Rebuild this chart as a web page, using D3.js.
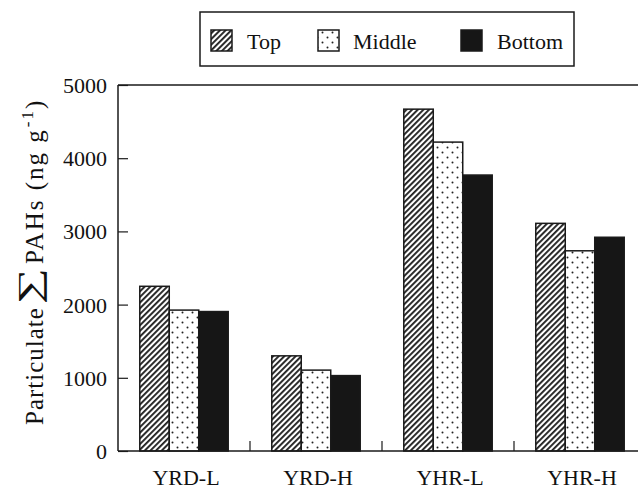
<!DOCTYPE html>
<html>
<head>
<meta charset="utf-8">
<script src="https://cdn.jsdelivr.net/npm/d3@7"></script>
<style>
  html, body { margin: 0; padding: 0; background: #fff; }
  svg { display: block; font-family: "Liberation Serif", "Times New Roman", serif; }
</style>
</head>
<body>
<svg id="chart" width="638" height="490"></svg>
<script>
// Sampling sites and particulate PAH totals (ng g-1) by layer
const categories = ["YRD-L", "YRD-H", "YHR-L", "YHR-H"];
const seriesNames = ["Top", "Middle", "Bottom"];
const topValues = [2250, 1300, 4670, 3110];
const middleValues = [1925, 1105, 4220, 2735];
const bottomValues = [1905, 1030, 3770, 2920];
const yTicks = [0, 1000, 2000, 3000, 4000, 5000];

const series = [
  { name: seriesNames[0], values: topValues, fill: "url(#hatch)" },
  { name: seriesNames[1], values: middleValues, fill: "url(#dots)" },
  { name: seriesNames[2], values: bottomValues, fill: "#161616" }
];

const FONT = "'Liberation Serif', 'Times New Roman', serif";
const svg = d3.select("#chart");
const ink = "#1a1a1a";
const plotLeft = 118, plotTop = 85, plotBottom = 451, plotRight = 646;

// Fill patterns
const defs = svg.append("defs");
const hatch = defs.append("pattern")
  .attr("id", "hatch").attr("patternUnits", "userSpaceOnUse")
  .attr("width", 4).attr("height", 4)
  .attr("patternTransform", "rotate(45)");
hatch.append("rect").attr("width", 4).attr("height", 4).attr("fill", "#fff");
hatch.append("rect").attr("width", 1.9).attr("height", 4).attr("fill", "#222");

const dots = defs.append("pattern")
  .attr("id", "dots").attr("patternUnits", "userSpaceOnUse")
  .attr("width", 10).attr("height", 10);
dots.append("rect").attr("width", 10).attr("height", 10).attr("fill", "#fff");
dots.append("circle").attr("cx", 2.5).attr("cy", 2.5).attr("r", 1).attr("fill", "#222");
dots.append("circle").attr("cx", 7.5).attr("cy", 7.5).attr("r", 1).attr("fill", "#222");

// Scales
const x0 = d3.scaleBand().domain(categories).range([plotLeft, plotRight])
  .paddingInner(0.33).paddingOuter(0.165);
const x1 = d3.scaleBand().domain(seriesNames).range([0, x0.bandwidth()]);
const y = d3.scaleLinear().domain([0, 5000]).range([plotBottom, plotTop]);

// Bars
const groups = svg.append("g").selectAll("g")
  .data(series).join("g");
groups.selectAll("rect")
  .data(s => s.values.map((v, i) => ({ cat: categories[i], v, s })))
  .join("rect")
  .attr("x", d => x0(d.cat) + x1(d.s.name))
  .attr("y", d => y(d.v))
  .attr("width", x1.bandwidth())
  .attr("height", d => y(0) - y(d.v))
  .attr("fill", d => d.s.fill)
  .attr("stroke", ink)
  .attr("stroke-width", 1.5);

// Frame: left axis, top edge, baseline
const frame = svg.append("g").attr("fill", "none").attr("stroke", ink).attr("stroke-width", 1.5);
frame.append("line").attr("x1", plotLeft).attr("x2", 638).attr("y1", plotTop).attr("y2", plotTop);
frame.append("line").attr("x1", plotLeft).attr("x2", 638).attr("y1", plotBottom).attr("y2", plotBottom);
frame.append("line").attr("x1", plotLeft).attr("x2", plotLeft).attr("y1", plotTop).attr("y2", plotBottom);

// Y axis with inward ticks
const yAxis = d3.axisLeft(y).tickValues(yTicks).tickFormat(d3.format("d"))
  .tickSizeInner(-10).tickSizeOuter(0);
const yg = svg.append("g").attr("transform", `translate(${plotLeft},0)`).call(yAxis)
  .attr("font-family", FONT);
yg.select(".domain").remove();
yg.selectAll(".tick line").attr("stroke", ink).attr("stroke-width", 1.2);
yg.selectAll(".tick text").attr("font-size", 22).attr("font-family", FONT)
  .attr("fill", "#111").attr("x", -11).attr("dy", "0.34em");

// Category separators on the baseline
const step = x0.step();
const seps = categories.slice(1).map(c => x0(c) - step * x0.paddingInner() / 2);
svg.append("g").selectAll("line").data(seps).join("line")
  .attr("x1", d => d).attr("x2", d => d)
  .attr("y1", plotBottom).attr("y2", plotBottom - 10)
  .attr("stroke", ink).attr("stroke-width", 1.2);

// Category labels
svg.append("g").selectAll("text").data(categories).join("text")
  .attr("x", d => x0(d) + x0.bandwidth() / 2 + 2)
  .attr("y", 485)
  .attr("text-anchor", "middle")
  .attr("font-size", 22)
  .attr("font-family", FONT)
  .attr("fill", "#111")
  .text(d => d);

// Y axis title (rotated group; x runs upward along the page)
const titleG = svg.append("g").attr("transform", "translate(43,0) rotate(-90)")
  .attr("font-family", FONT).attr("fill", "#111");
titleG.append("text")
  .attr("x", -425).attr("y", 0)
  .attr("font-size", 25).attr("letter-spacing", 1)
  .text("Particulate");
titleG.append("text")
  .attr("transform", "translate(-304,-3) scale(1.6,1)")
  .attr("font-size", 32)
  .text("\u2211");
const rest = titleG.append("text")
  .attr("x", -264).attr("y", 0)
  .attr("font-size", 25).attr("letter-spacing", 2);
rest.append("tspan").text("PAHs (ng g");
rest.append("tspan").attr("font-size", 17).attr("dy", -10).attr("dx", 1).text("-1");
rest.append("tspan").attr("dy", 10).text(")");

// Legend
const legend = svg.append("g").attr("font-family", FONT);
legend.append("rect").attr("x", 200).attr("y", 12).attr("width", 374).attr("height", 54)
  .attr("fill", "#fff").attr("stroke", ink).attr("stroke-width", 1.5);
const legendX = [211, 318, 461];
const legendTextX = [247, 353, 497];
const items = legend.selectAll("g.item").data(series).join("g").attr("class", "item");
items.append("rect")
  .attr("x", (d, i) => legendX[i]).attr("y", 30)
  .attr("width", 21).attr("height", 21)
  .attr("fill", d => d.fill).attr("stroke", ink).attr("stroke-width", 1.5);
items.append("text")
  .attr("x", (d, i) => legendTextX[i]).attr("y", 49)
  .attr("font-size", 22).attr("fill", "#111")
  .text(d => d.name);
</script>
</body>
</html>
